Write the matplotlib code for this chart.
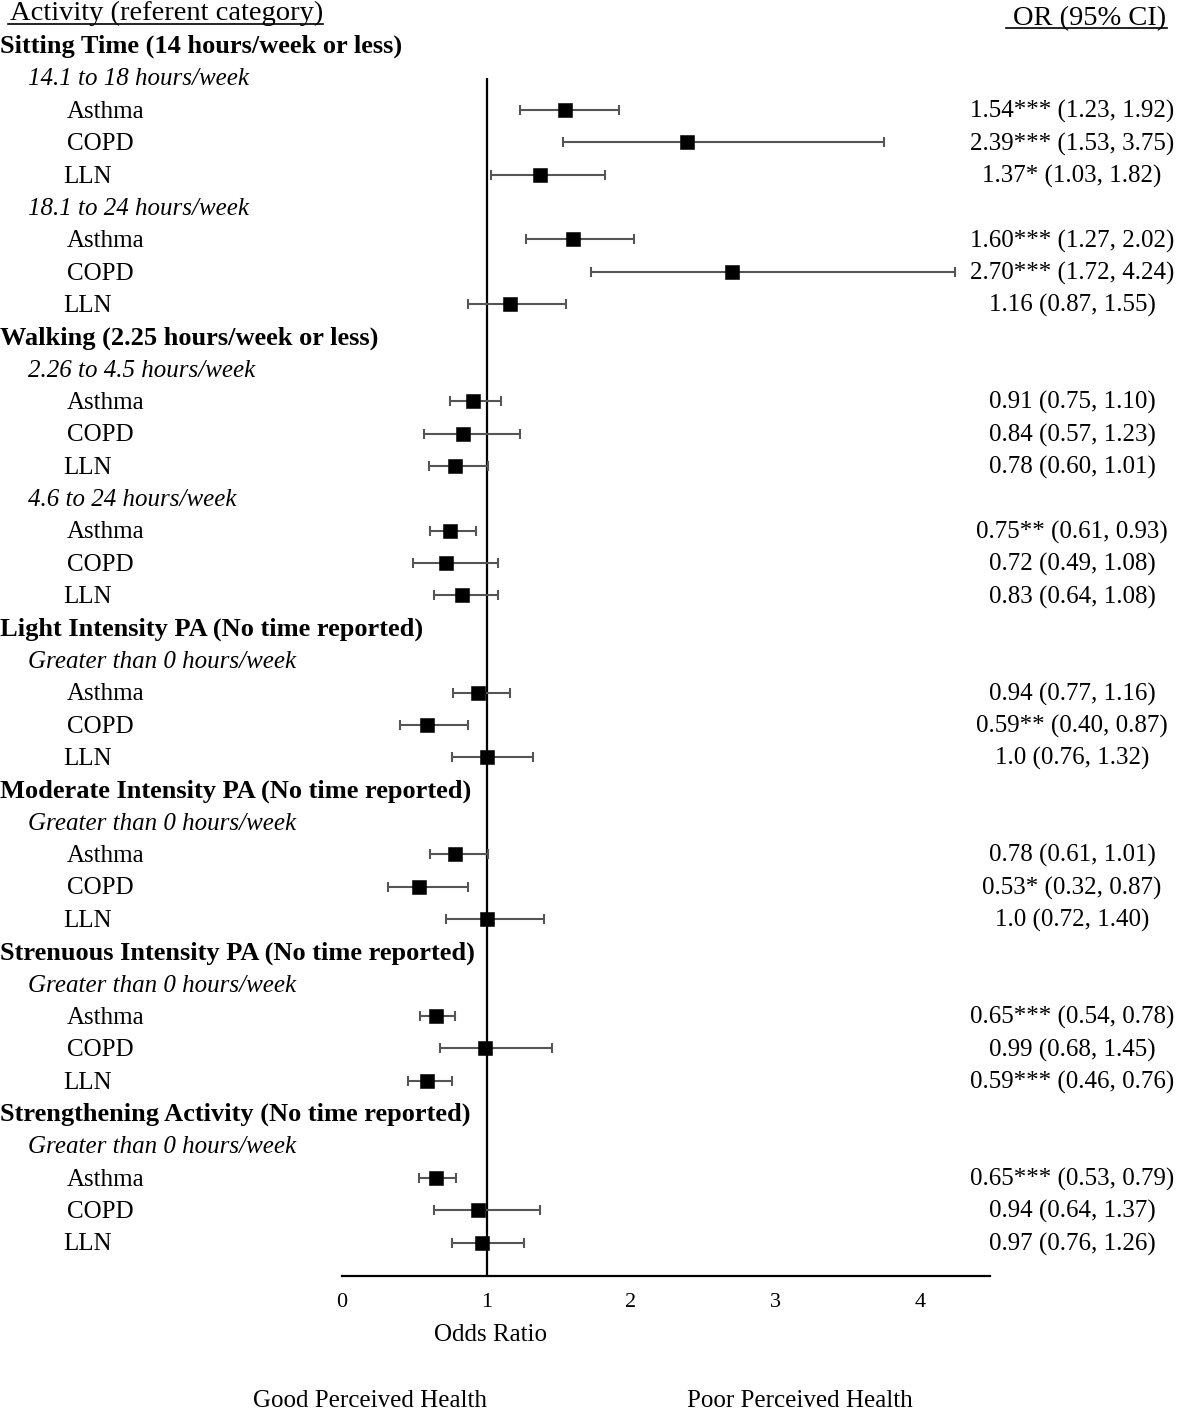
import matplotlib
matplotlib.use("Agg")
import matplotlib.pyplot as plt
import matplotlib.transforms as mtransforms

plt.rcParams['font.family'] = ['Liberation Serif', 'DejaVu Serif']

# Data
groups = ["Sitting Time (14 hours/week or less)",
          "Walking (2.25 hours/week or less)",
          "Light Intensity PA (No time reported)",
          "Moderate Intensity PA (No time reported)",
          "Strenuous Intensity PA (No time reported)",
          "Strengthening Activity (No time reported)"]
levels = [["14.1 to 18 hours/week", "18.1 to 24 hours/week"],
          ["2.26 to 4.5 hours/week", "4.6 to 24 hours/week"],
          ["Greater than 0 hours/week"],
          ["Greater than 0 hours/week"],
          ["Greater than 0 hours/week"],
          ["Greater than 0 hours/week"]]
outcomes = ["Asthma", "COPD", "LLN"]

odds_ratio = [1.54, 2.39, 1.37, 1.60, 2.70, 1.16,
              0.91, 0.84, 0.78, 0.75, 0.72, 0.83,
              0.94, 0.59, 1.0,
              0.78, 0.53, 1.0,
              0.65, 0.99, 0.59,
              0.65, 0.94, 0.97]
ci_low = [1.23, 1.53, 1.03, 1.27, 1.72, 0.87,
          0.75, 0.57, 0.60, 0.61, 0.49, 0.64,
          0.77, 0.40, 0.76,
          0.61, 0.32, 0.72,
          0.54, 0.68, 0.46,
          0.53, 0.64, 0.76]
ci_high = [1.92, 3.75, 1.82, 2.02, 4.24, 1.55,
           1.10, 1.23, 1.01, 0.93, 1.08, 1.08,
           1.16, 0.87, 1.32,
           1.01, 0.87, 1.40,
           0.78, 1.45, 0.76,
           0.79, 1.37, 1.26]
stars = ["***", "***", "*", "***", "***", "",
         "", "", "", "**", "", "",
         "", "**", "",
         "", "*", "",
         "***", "", "***",
         "***", "", ""]
ticks = [0, 1, 2, 3, 4]

W, H = 1179, 1412
fig = plt.figure(figsize=(W / 100, H / 100), dpi=100)

# axes: left edge at x=0, bottom spine is the odds ratio axis
row_h = 32.36
top_row_px = 45.3
axis_px = 1276
unit_px = 144.5
x0_px = 342
x1_px = 990
ax = fig.add_axes([x0_px / W, (H - axis_px) / H, (x1_px - x0_px) / W, axis_px / H])
ax.set_xlim(0, (x1_px - x0_px) / unit_px)
ax.set_ylim((axis_px - top_row_px) / row_h, -top_row_px / row_h)
for s in ['top', 'right', 'left']:
    ax.spines[s].set_visible(False)
ax.spines['bottom'].set_linewidth(1.6)
ax.set_yticks([])
ax.set_xticks(ticks)
ax.tick_params(axis='x', length=0, pad=12, labelsize=16)
ax.patch.set_alpha(0)

trans = mtransforms.blended_transform_factory(fig.transFigure, ax.transData)
label_x = {"Asthma": 67, "COPD": 67, "LLN": 63}
base = 0.24  # baseline offset so caps sit centred on the row

rows = []
r = 0
k = 0
for g, lvls in zip(groups, levels):
    ax.text(0 / W, r + base, g, transform=trans, fontsize=19, fontweight='bold',
            ha='left', va='baseline')
    r += 1
    for lv in lvls:
        ax.text(28 / W, r + base, lv, transform=trans, fontsize=18, style='italic',
                ha='left', va='baseline')
        r += 1
        for o in outcomes:
            ax.text(label_x[o] / W, r + base, o, transform=trans, fontsize=18,
                    ha='left', va='baseline')
            orv = odds_ratio[k]
            or_s = "1.0" if orv == 1.0 else f"{orv:.2f}"
            ax.text(1072 / W, r + base,
                    f"{or_s}{stars[k]} ({ci_low[k]:.2f}, {ci_high[k]:.2f})",
                    transform=trans, fontsize=18, ha='center', va='baseline')
            rows.append(r)
            r += 1
            k += 1

ax.vlines(1, 1, ax.get_ylim()[0], color='black', lw=1.6, zorder=1)
err = [[o - lo for o, lo in zip(odds_ratio, ci_low)],
       [hi - o for o, hi in zip(odds_ratio, ci_high)]]
ax.errorbar(odds_ratio, rows, xerr=err, fmt='none', ecolor='#555555',
            elinewidth=1.5, capsize=3.8, capthick=1.5, zorder=2)
ax.plot(odds_ratio, rows, 's', color='black', markersize=9.8,
        markeredgewidth=0.4, zorder=3)

# headers
fig.text(10 / W, 1 - 20.5 / H, "Activity (referent category)", fontsize=20.5,
         ha='left', va='baseline')
fig.add_artist(plt.Line2D([8 / W, 323 / W], [1 - 23.5 / H, 1 - 23.5 / H],
                          color='black', lw=1.2))
fig.text(1090 / W, 1 - 25 / H, "OR (95% CI)", fontsize=20.5, ha='center',
         va='baseline')
fig.add_artist(plt.Line2D([1006 / W, 1167 / W], [1 - 27.5 / H, 1 - 27.5 / H],
                          color='black', lw=1.2))

fig.text(490 / W, 1 - 1335 / H, "Odds Ratio", fontsize=18, ha='center', va='center')
fig.text(370 / W, 1 - 1401 / H, "Good Perceived Health", fontsize=18,
         ha='center', va='center')
fig.text(800 / W, 1 - 1401 / H, "Poor Perceived Health", fontsize=18,
         ha='center', va='center')

fig.savefig("out.png", dpi=100)
